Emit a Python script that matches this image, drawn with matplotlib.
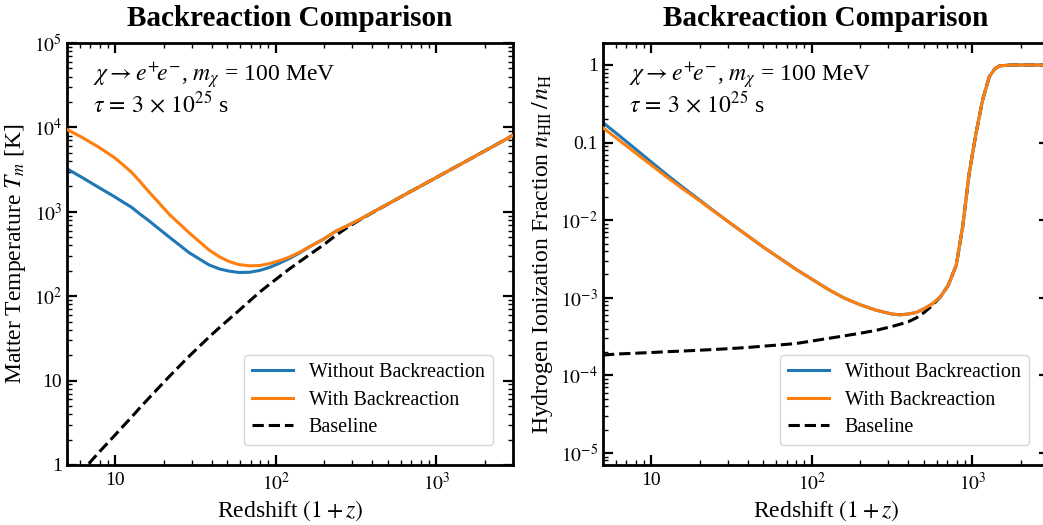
"""
Backreaction comparison: matter temperature and hydrogen ionization fraction
with and without backreaction, for chi -> e+e-, m_chi = 100 MeV.
"""

import matplotlib
matplotlib.use("Agg")
import matplotlib.pyplot as plt
from matplotlib.ticker import FixedLocator, FixedFormatter, LogLocator, NullFormatter

# ============================================================================
# DATA
# ============================================================================

# Left panel: matter temperature T_m [K] vs (1+z)
rs_temp = [5.0, 6.3, 7.9, 10, 11.2, 12.6, 14.1, 15.8, 21.7, 28.9, 38.5, 44.7,
           51.3, 58.9, 68.4, 79.4, 91.2, 105, 121, 140, 162, 200, 237, 282,
           335, 400, 631, 1000, 1585, 3000]
temp_no_br = [3240, 2510, 1940, 1490, 1300, 1135, 955, 813, 501, 327, 234, 210,
              198, 191, 192, 202, 219, 245, 279, 324, 385, 479, 590, 690, 815,
              984, 1580, 2550, 4120, 8040]
temp_br = [9460, 7500, 5820, 4310, 3590, 2950, 2340, 1820, 933, 562, 351, 292,
           257, 237, 229, 231, 243, 263, 290, 331, 385, 479, 590, 690, 815,
           984, 1580, 2550, 4120, 8040]
temp_base = [0.54, 0.87, 1.41, 2.28, 2.89, 3.67, 4.67, 5.9, 11.2, 19.5, 33.0,
             42.7, 53.7, 67.6, 87.1, 112, 138, 170, 209, 255, 310, 410, 527,
             662, 805, 977, 1580, 2550, 4120, 8040]

# Right panel: ionization fraction n_HII / n_H vs (1+z)
rs_xe = [5.0, 6.31, 7.94, 10, 12.6, 15.8, 20.0, 25.1, 31.6, 39.8, 50.1, 63.1,
         79.4, 100, 126, 158, 200, 251, 316, 355, 398, 447, 501, 562, 631,
         708, 794, 871, 955, 1054, 1159, 1276, 1380, 1479, 1778, 3000]
xe_no_br = [0.181, 0.123, 0.0832, 0.0562, 0.0380, 0.0263, 0.0182, 0.0127,
            0.00891, 0.00631, 0.00447, 0.00324, 0.00234, 0.00174, 0.00129,
            0.00100, 0.000813, 0.000692, 0.000617, 0.000603, 0.000617,
            0.000646, 0.000724, 0.000832, 0.00102, 0.00145, 0.00263, 0.00832,
            0.0398, 0.132, 0.355, 0.708, 0.891, 0.977, 1.0, 1.0]
xe_br = [0.155, 0.107, 0.0741, 0.0513, 0.0355, 0.0251, 0.0178, 0.0126,
         0.00891, 0.00631, 0.00447, 0.00324, 0.00234, 0.00174, 0.00129,
         0.00100, 0.000813, 0.000692, 0.000617, 0.000603, 0.000617,
         0.000646, 0.000724, 0.000832, 0.00102, 0.00145, 0.00263, 0.00832,
         0.0398, 0.132, 0.355, 0.708, 0.891, 0.977, 1.0, 1.0]
xe_base = [1.83e-4, 1.89e-4, 1.93e-4, 1.97e-4, 2.02e-4, 2.06e-4, 2.11e-4,
           2.16e-4, 2.22e-4, 2.29e-4, 2.38e-4, 2.47e-4, 2.57e-4, 2.77e-4,
           2.99e-4, 3.22e-4, 3.49e-4, 3.80e-4, 4.27e-4, 4.57e-4, 4.90e-4,
           5.50e-4, 6.46e-4, 7.94e-4, 0.00102, 0.00145, 0.00263, 0.00832,
           0.0398, 0.132, 0.355, 0.708, 0.891, 0.977, 1.0, 1.0]

# Ticks
x_ticks = [10, 100, 1000]
x_ticklabels = ['10', r'$10^2$', r'$10^3$']
temp_ticks = [1, 10, 100, 1e3, 1e4, 1e5]
temp_ticklabels = ['1', '10', r'$10^2$', r'$10^3$', r'$10^4$', r'$10^5$']
xe_ticks = [1e-5, 1e-4, 1e-3, 1e-2, 0.1, 1]
xe_ticklabels = [r'$10^{-5}$', r'$10^{-4}$', r'$10^{-3}$', r'$10^{-2}$', '0.1', '1']

labels = ['Without Backreaction', 'With Backreaction', 'Baseline']
colors = ['#1f77b4', '#ff7f0e', 'black']

annotation = (r'$\chi \rightarrow e^{+}\!e^{-}$, $m_\chi$ = 100 MeV' + '\n'
              + r'$\tau\,=\,3\,\times\,10^{25}$ s')

# ============================================================================
# STYLE
# ============================================================================

plt.rcParams['font.family'] = ['Liberation Serif', 'DejaVu Serif']
plt.rcParams['mathtext.fontset'] = 'stix'
plt.rcParams['axes.linewidth'] = 2.0
for ax_name in ['xtick', 'ytick']:
    plt.rcParams[f'{ax_name}.direction'] = 'in'
    plt.rcParams[f'{ax_name}.major.size'] = 7
    plt.rcParams[f'{ax_name}.major.width'] = 1.6
    plt.rcParams[f'{ax_name}.minor.size'] = 3.5
    plt.rcParams[f'{ax_name}.minor.width'] = 1.0
    plt.rcParams[f'{ax_name}.labelsize'] = 14
plt.rcParams['xtick.top'] = True
plt.rcParams['ytick.right'] = True


def draw_panel(ax, x, ys, ylabel, yticks, yticklabels, ylim):
    # baseline below, orange on top (as in the reference)
    zorders = [2, 3, 1]
    for y, lab, c, z in zip(ys, labels, colors, zorders):
        ls = '--' if lab == 'Baseline' else '-'
        ax.plot(x, y, color=c, ls=ls, lw=2.2, label=lab, zorder=z)

    ax.set_xscale('log')
    ax.set_yscale('log')
    ax.set_xlim(5, 3000)
    ax.set_ylim(*ylim)

    ax.xaxis.set_major_locator(FixedLocator(x_ticks))
    ax.xaxis.set_major_formatter(FixedFormatter(x_ticklabels))
    ax.yaxis.set_major_locator(FixedLocator(yticks))
    ax.yaxis.set_major_formatter(FixedFormatter(yticklabels))
    for axis in [ax.xaxis, ax.yaxis]:
        axis.set_minor_locator(LogLocator(base=10, subs=range(2, 10), numticks=50))
        axis.set_minor_formatter(NullFormatter())
    ax.tick_params(axis='x', pad=5)

    ax.set_xlabel(r'Redshift $(1+z)$', fontsize=17, labelpad=3)
    ax.set_ylabel(ylabel, fontsize=17)
    ax.set_title('Backreaction Comparison', fontsize=21, fontweight='bold', pad=12)

    ax.text(0.058, 0.958, annotation, transform=ax.transAxes, fontsize=17,
            va='top', ha='left', linespacing=1.0)
    ax.legend(handles=ax.get_lines(), loc='lower right', fontsize=14.5,
              borderaxespad=1.0, handlelength=2.0, labelspacing=0.4)


fig = plt.figure(figsize=(10.43, 5.25), dpi=100)
ax1 = fig.add_axes([0.0642, 0.1143, 0.4276, 0.8038])
ax2 = fig.add_axes([0.5781, 0.1143, 0.4276, 0.8038])

draw_panel(ax1, rs_temp, [temp_no_br, temp_br, temp_base],
           r'Matter Temperature $T_m$ [K]', temp_ticks, temp_ticklabels, (1, 1e5))
draw_panel(ax2, rs_xe, [xe_no_br, xe_br, xe_base],
           r'Hydrogen Ionization Fraction $n_{\mathrm{HII}}\,/\,n_{\mathrm{H}}$',
           xe_ticks, xe_ticklabels, (7e-6, 1.92))

fig.savefig('out.png', dpi=100)
